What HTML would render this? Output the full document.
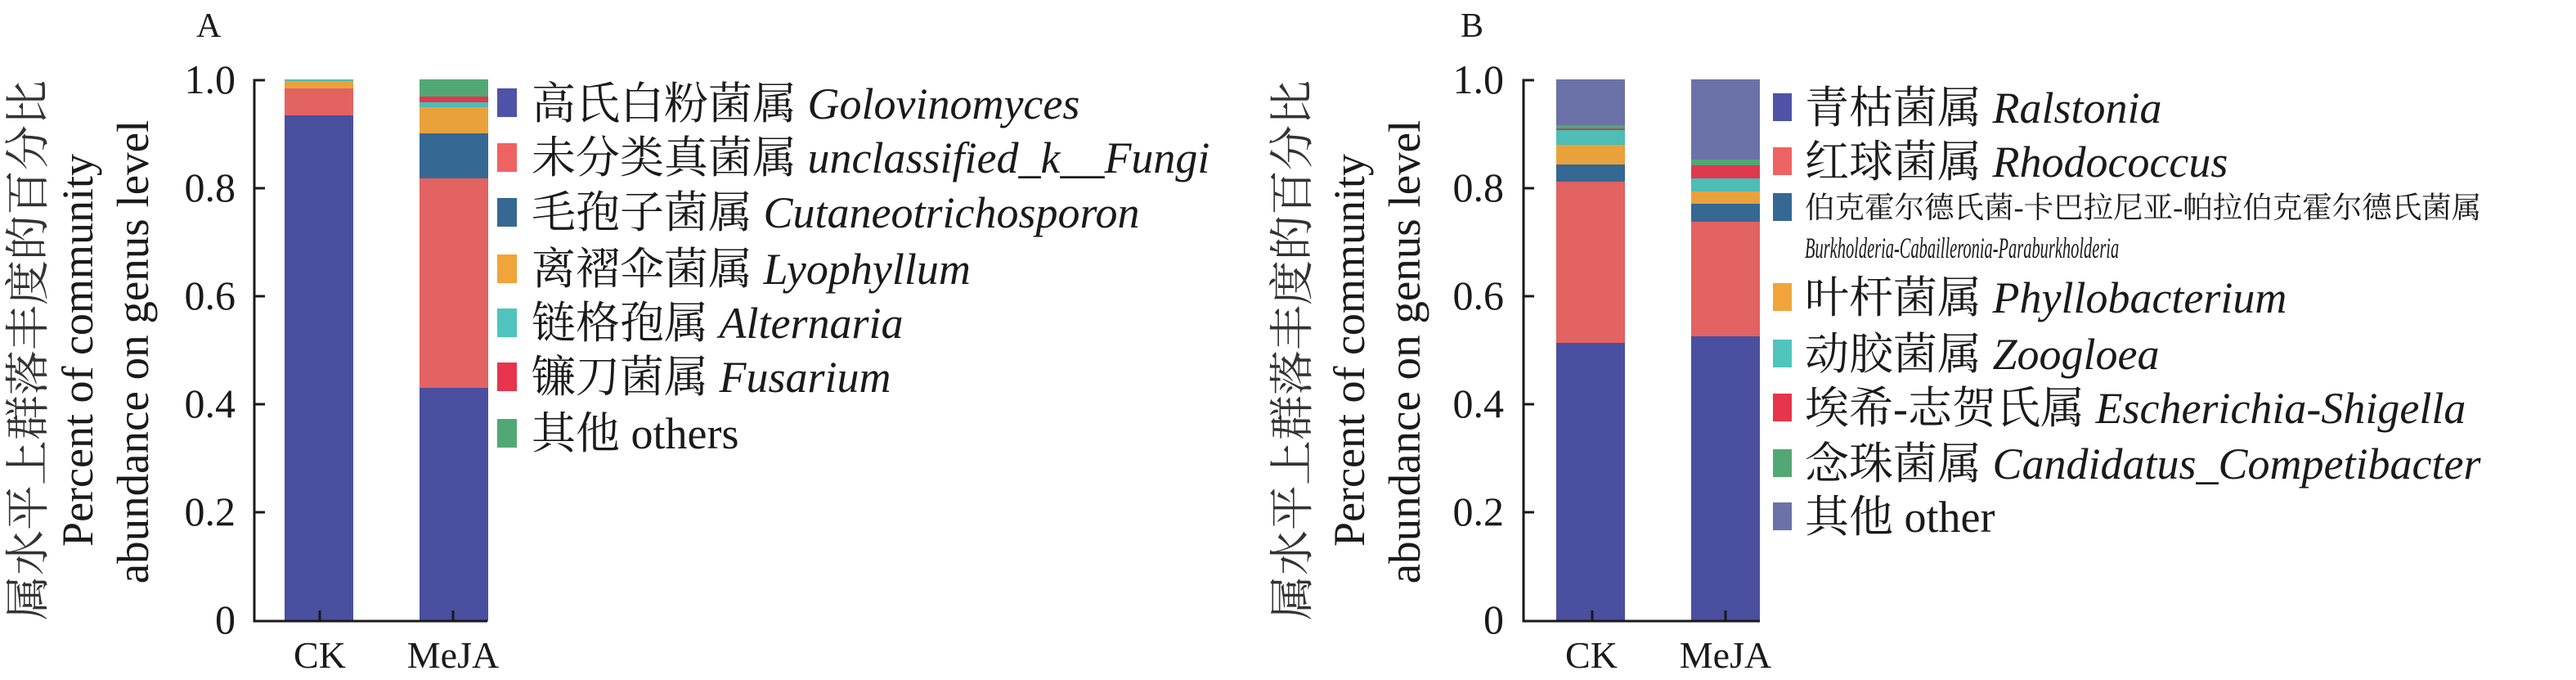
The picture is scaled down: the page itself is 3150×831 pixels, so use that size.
<!DOCTYPE html>
<html><head><meta charset="utf-8"><style>
html,body{margin:0;padding:0;background:#fff;}
svg{display:block;}
svg text, svg tspan{font-family:"Liberation Serif","Times New Roman",Times,"DejaVu Serif","Noto Serif CJK SC",serif;}
</style></head><body>
<svg width="3150" height="831" viewBox="0 0 3150 831" xmlns="http://www.w3.org/2000/svg" fill="#1a1a1a">
<!-- Panel A -->
<text x="240" y="45" font-size="42">A</text>
<text transform="translate(53,428) rotate(-90)" text-anchor="middle" font-size="55" fill="#333">属水平上群落丰度的百分比</text>
<text transform="translate(113,428) rotate(-90)" text-anchor="middle" font-size="54">Percent of community</text>
<text transform="translate(181,430) rotate(-90)" text-anchor="middle" font-size="55">abundance on genus level</text>
<g font-size="50" text-anchor="end">
<text x="288" y="114">1.0</text><text x="288" y="246">0.8</text><text x="288" y="378">0.6</text>
<text x="288" y="510">0.4</text><text x="288" y="642">0.2</text><text x="288" y="774">0</text>
</g>
<rect x="348" y="141" width="84" height="618" fill="#4a4fa0"/>
<rect x="348" y="108" width="84" height="33" fill="#e36262"/>
<rect x="348" y="99" width="84" height="9" fill="#e9a23b"/>
<rect x="348" y="97" width="84" height="2" fill="#4dbdb5"/>
<rect x="513" y="474" width="84" height="285" fill="#4a4fa0"/>
<rect x="513" y="218" width="84" height="256" fill="#e36262"/>
<rect x="513" y="163" width="84" height="55" fill="#356893"/>
<rect x="513" y="131" width="84" height="32" fill="#e9a23b"/>
<rect x="513" y="125" width="84" height="6" fill="#4dbdb5"/>
<rect x="513" y="118" width="84" height="7" fill="#e0384e"/>
<rect x="513" y="97" width="84" height="21" fill="#52a874"/>
<g stroke="#1a1a1a" stroke-width="3" fill="none">
<path d="M324 98 H311 V759 H596"/>
<path d="M311 230 H324 M311 362 H324 M311 494 H324 M311 626 H324"/>
<path d="M391 759 V746 M554 759 V746"/>
</g>
<g font-size="46" text-anchor="middle">
<text x="391" y="816">CK</text><text x="554" y="816">MeJA</text>
</g>
<rect x="608" y="108" width="24" height="35" fill="#4e53a8"/>
<rect x="608" y="175" width="24" height="35" fill="#ef6262"/>
<rect x="608" y="242" width="24" height="35" fill="#356893"/>
<rect x="608" y="311" width="24" height="35" fill="#f0a43a"/>
<rect x="608" y="377" width="24" height="35" fill="#4fc4bd"/>
<rect x="608" y="443" width="24" height="35" fill="#e6354d"/>
<rect x="608" y="512" width="24" height="35" fill="#52a874"/>
<g font-size="54">
<text x="650" y="145">高氏白粉菌属 <tspan font-style="italic">Golovinomyces</tspan></text>
<text x="650" y="211">未分类真菌属 <tspan font-style="italic">unclassified_k__Fungi</tspan></text>
<text x="650" y="278">毛孢子菌属 <tspan font-style="italic">Cutaneotrichosporon</tspan></text>
<text x="650" y="347">离褶伞菌属 <tspan font-style="italic">Lyophyllum</tspan></text>
<text x="650" y="413">链格孢属 <tspan font-style="italic">Alternaria</tspan></text>
<text x="650" y="479">镰刀菌属 <tspan font-style="italic">Fusarium</tspan></text>
<text x="650" y="548">其他 others</text>
</g>

<!-- Panel B -->
<text x="1786" y="45" font-size="42">B</text>
<text transform="translate(1599,428) rotate(-90)" text-anchor="middle" font-size="55" fill="#333">属水平上群落丰度的百分比</text>
<text transform="translate(1668,428) rotate(-90)" text-anchor="middle" font-size="54">Percent of community</text>
<text transform="translate(1736,430) rotate(-90)" text-anchor="middle" font-size="55">abundance on genus level</text>
<g font-size="50" text-anchor="end">
<text x="1839" y="114">1.0</text><text x="1839" y="246">0.8</text><text x="1839" y="378">0.6</text>
<text x="1839" y="510">0.4</text><text x="1839" y="642">0.2</text><text x="1839" y="774">0</text>
</g>
<rect x="1903" y="419" width="84" height="340" fill="#4a4fa0"/>
<rect x="1903" y="222" width="84" height="197" fill="#e36262"/>
<rect x="1903" y="201" width="84" height="21" fill="#356893"/>
<rect x="1903" y="177" width="84" height="24" fill="#e9a23b"/>
<rect x="1903" y="159" width="84" height="18" fill="#4dbdb5"/>
<rect x="1903" y="157" width="84" height="2" fill="#b8455a"/>
<rect x="1903" y="153" width="84" height="4" fill="#52a874"/>
<rect x="1903" y="97" width="84" height="56" fill="#6b72a8"/>
<rect x="2068" y="411" width="84" height="348" fill="#4a4fa0"/>
<rect x="2068" y="271" width="84" height="140" fill="#e36262"/>
<rect x="2068" y="249" width="84" height="22" fill="#356893"/>
<rect x="2068" y="234" width="84" height="15" fill="#e9a23b"/>
<rect x="2068" y="218" width="84" height="16" fill="#4dbdb5"/>
<rect x="2068" y="202" width="84" height="16" fill="#e0384e"/>
<rect x="2068" y="195" width="84" height="7" fill="#52a874"/>
<rect x="2068" y="97" width="84" height="98" fill="#6b72a8"/>
<g stroke="#1a1a1a" stroke-width="3" fill="none">
<path d="M1876 98 H1863 V759 H2152"/>
<path d="M1863 230 H1876 M1863 362 H1876 M1863 494 H1876 M1863 626 H1876"/>
<path d="M1947 759 V746 M2110 759 V746"/>
</g>
<g font-size="46" text-anchor="middle">
<text x="1946" y="816">CK</text><text x="2110" y="816">MeJA</text>
</g>
<rect x="2168" y="114" width="23" height="34" fill="#4e53a8"/>
<rect x="2168" y="180" width="23" height="34" fill="#ef6262"/>
<rect x="2168" y="236" width="23" height="34" fill="#356893"/>
<rect x="2168" y="346" width="23" height="34" fill="#f0a43a"/>
<rect x="2168" y="415" width="23" height="34" fill="#4fc4bd"/>
<rect x="2168" y="481" width="23" height="34" fill="#e6354d"/>
<rect x="2168" y="549" width="23" height="34" fill="#52a874"/>
<rect x="2168" y="614" width="23" height="34" fill="#6b72a8"/>
<g font-size="54">
<text x="2207" y="150">青枯菌属 <tspan font-style="italic">Ralstonia</tspan></text>
<text x="2207" y="216">红球菌属 <tspan font-style="italic">Rhodococcus</tspan></text>
<text x="2207" y="266" font-size="36.5">伯克霍尔德氏菌-卡巴拉尼亚-帕拉伯克霍尔德氏菌属</text>
<text transform="translate(2207,315) scale(0.568,1)" font-size="36" font-style="italic">Burkholderia-Cabailleronia-Paraburkholderia</text>
<text x="2207" y="382">叶杆菌属 <tspan font-style="italic">Phyllobacterium</tspan></text>
<text x="2207" y="451">动胶菌属 <tspan font-style="italic">Zoogloea</tspan></text>
<text x="2207" y="517">埃希-志贺氏属 <tspan font-style="italic">Escherichia-Shigella</tspan></text>
<text x="2207" y="585">念珠菌属 <tspan font-style="italic">Candidatus_Competibacter</tspan></text>
<text x="2207" y="650">其他 other</text>
</g>
</svg>
</body></html>
